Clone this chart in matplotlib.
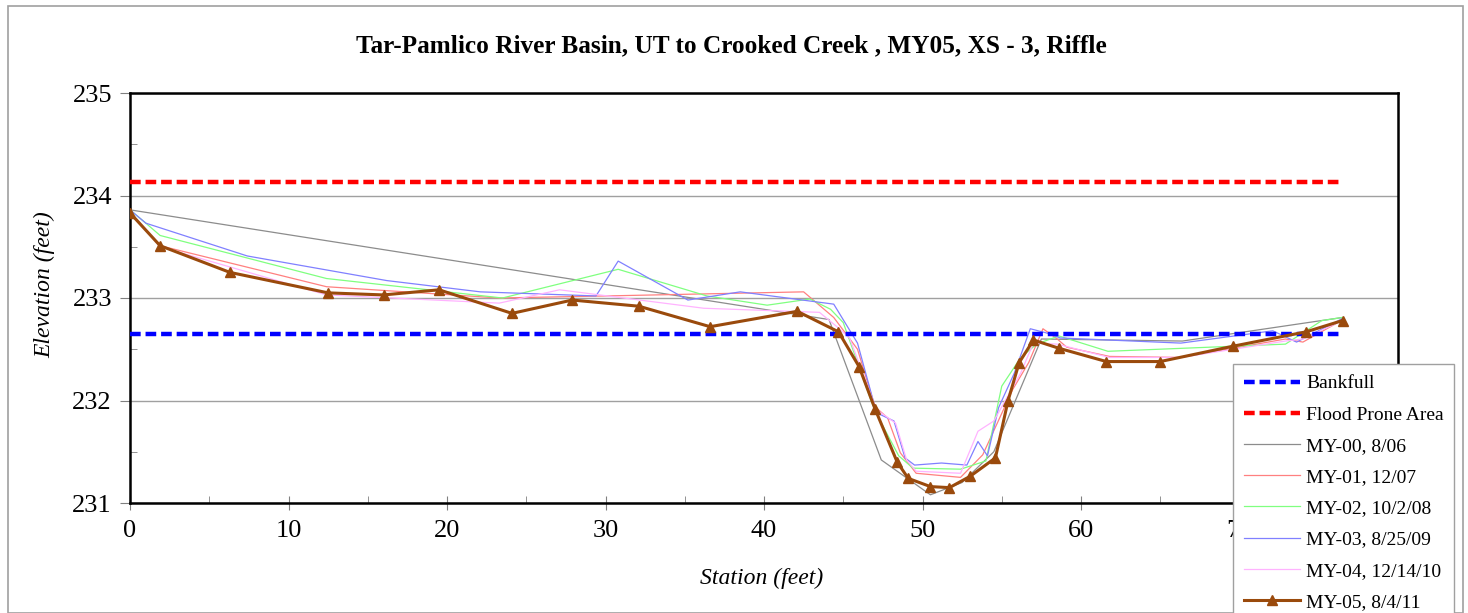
import numpy as np
import matplotlib
matplotlib.use("Agg")
import matplotlib.pyplot as plt
from matplotlib.patches import Rectangle

# DATA
bankfull = 232.65
flood_prone = 234.13
ref_x = [0, 76.5]

my00_x = [0, 44.1, 47.4, 50.5, 52.5, 54.5, 57.5, 66.4, 76.5]
my00_y = [233.86, 232.79, 231.42, 231.08, 231.2, 231.5, 232.6, 232.58, 232.81]

my01_x = [0, 1.9, 12.4, 23.3, 30.0, 42.5, 44.4, 45.9, 47.0, 47.8, 48.6, 49.6, 52.4, 53.8, 55.7, 56.7,
          57.6, 58.5, 59.1, 61.8, 66.3, 72.9, 74.0, 76.2]
my01_y = [233.84, 233.51, 233.11, 233.0, 233.02, 233.06, 232.81, 232.5, 231.94, 231.83, 231.49, 231.29,
          231.25, 231.47, 232.11, 232.37, 232.7, 232.6, 232.52, 232.43, 232.42, 232.6, 232.57, 232.76]

my02_x = [0, 1.0, 1.9, 12.4, 23.5, 30.8, 36.4, 40.2, 42.9, 44.2, 45.0, 46.8, 47.3, 48.5, 49.4, 52.4, 54.0,
          55.0, 56.2, 57.2, 58.6, 61.7, 72.9, 75.2, 76.5]
my02_y = [233.86, 233.73, 233.61, 233.19, 233.0, 233.28, 233.02, 232.93, 232.99, 232.89, 232.76, 231.98,
          231.81, 231.46, 231.34, 231.33, 231.41, 232.14, 232.42, 232.55, 232.63, 232.48, 232.55, 232.78, 232.81]

my03_x = [0, 1.0, 7.4, 16.2, 22.1, 29.4, 30.8, 35.2, 38.5, 44.4, 45.9, 47.1, 48.2, 48.9, 49.5, 51.2, 52.8,
          53.5, 54.1, 54.8, 55.8, 56.8, 57.8, 58.7, 66.3, 72.1, 73.6, 76.5]
my03_y = [233.86, 233.73, 233.41, 233.17, 233.06, 233.02, 233.36, 232.98, 233.06, 232.94, 232.56, 231.88,
          231.8, 231.44, 231.37, 231.39, 231.37, 231.6, 231.46, 231.93, 232.27, 232.7, 232.66, 232.61, 232.56,
          232.68, 232.57, 232.8]

my04_x = [0, 1.9, 12.4, 23.3, 27.1, 36.2, 43.5, 44.6, 45.4, 47.1, 48.3, 49.0, 49.6, 52.4, 53.5, 54.5, 56.2,
          57.0, 58.5, 61.8, 66.3, 72.9, 74.0, 76.5]
my04_y = [233.84, 233.5, 233.03, 232.95, 233.08, 232.9, 232.86, 232.72, 232.61, 231.91, 231.78, 231.42,
          231.31, 231.29, 231.7, 231.8, 232.27, 232.56, 232.55, 232.42, 232.42, 232.58, 232.6, 232.78]

my05_x = [0, 1.9, 6.3, 12.5, 16.0, 19.5, 24.1, 27.9, 32.1, 36.6, 42.1, 44.7, 46.0, 47.0, 48.4, 49.1, 50.5,
          51.7, 53.0, 54.6, 55.4, 56.1, 57.0, 58.6, 61.6, 65.0, 69.6, 74.2, 76.5]
my05_y = [233.83, 233.51, 233.25, 233.05, 233.03, 233.08, 232.85, 232.98, 232.92, 232.72, 232.87, 232.67,
          232.33, 231.92, 231.40, 231.24, 231.16, 231.15, 231.26, 231.44, 232.00, 232.37, 232.59, 232.51,
          232.38, 232.38, 232.53, 232.67, 232.78]

plt.rcParams['font.family'] = ['Liberation Serif', 'DejaVu Serif']

fig = plt.figure(figsize=(14.68, 6.13), dpi=100)
ax = fig.add_axes([130/1468, 1-503/613, (1398-130)/1468, (503-93)/613])

# border around whole chart
fig.patches.append(Rectangle((8/1468, 0.0), 1455/1468, 1-6/613, transform=fig.transFigure,
                             fill=False, edgecolor='#a0a0a0', linewidth=1.2))

dash = (0, (2.4, 1.1))
ax.plot(ref_x, [bankfull]*2, color='#0000ff', lw=3.2, linestyle=dash, label='Bankfull', zorder=3)
ax.plot(ref_x, [flood_prone]*2, color='#ff0000', lw=3.2, linestyle=dash, label='Flood Prone Area', zorder=3)
ax.plot(my00_x, my00_y, color='#8c8c8c', lw=0.9, label='MY-00, 8/06')
ax.plot(my01_x, my01_y, color='#ff8080', lw=0.9, label='MY-01, 12/07')
ax.plot(my02_x, my02_y, color='#80ff80', lw=0.9, label='MY-02, 10/2/08')
ax.plot(my03_x, my03_y, color='#8080ff', lw=0.9, label='MY-03, 8/25/09')
ax.plot(my04_x, my04_y, color='#ffb3ff', lw=0.9, label='MY-04, 12/14/10')
ax.plot(my05_x, my05_y, color='#9a4a0c', lw=2.2, marker='^', markersize=7, label='MY-05, 8/4/11', zorder=4)

ax.set_xlim(0, 80)
ax.set_ylim(231, 235)
ax.set_xticks(np.arange(0, 81, 10))
ax.set_xticks(np.arange(0, 81, 5), minor=True)
ax.set_yticks([231, 232, 233, 234, 235])
ax.set_yticks(np.arange(231, 235.01, 0.5), minor=True)
ax.yaxis.grid(True, which='major', color='#a0a0a0', lw=1)
ax.set_axisbelow(True)
ax.tick_params(axis='both', which='major', labelsize=19, length=7, color='#808080')
ax.tick_params(axis='x', which='major', direction='inout', length=10, pad=7)
ax.tick_params(axis='x', which='minor', direction='in', length=5, color='#808080')
ax.tick_params(axis='y', which='minor', direction='in', length=5, color='#808080')
ax.tick_params(axis='y', which='major', direction='out', pad=6)
for s in ax.spines.values():
    s.set_linewidth(1.8)
    s.set_color('black')

fig.text(762/1468, 1-578/613, 'Station (feet)', fontsize=17, style='italic', ha='center', va='center')
fig.text(45/1468, 1-285/613, 'Elevation (feet)', fontsize=17, style='italic', ha='center', va='center',
         rotation=90)
fig.text(731/1468, 1-46/613, 'Tar-Pamlico River Basin, UT to Crooked Creek , MY05, XS - 3, Riffle',
         ha='center', va='center', fontsize=18.2, fontweight='bold')

leg = fig.legend(loc='upper left', bbox_to_anchor=(1233/1468, 1-364/613), fontsize=14,
                 frameon=True, fancybox=False, edgecolor='#a0a0a0', framealpha=1,
                 handlelength=2.9, labelspacing=0.7, borderpad=0.55, handletextpad=0.3,
                 borderaxespad=0)
leg.get_frame().set_linewidth(1.0)

fig.savefig('out.png', dpi=100)
